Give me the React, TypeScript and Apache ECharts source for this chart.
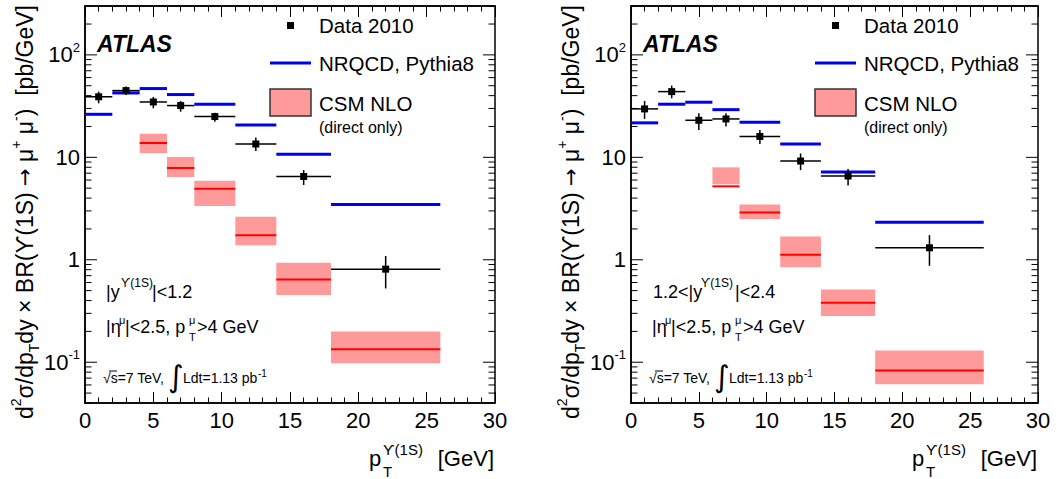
import React, { useEffect, useRef } from 'react';
import * as echarts from 'echarts';

const FONT = '"Liberation Sans", Arial, Helvetica, sans-serif';

// pT bins (GeV)
const binLo = [0, 2, 4, 6, 8, 11, 14, 18];
const binHi = [2, 4, 6, 8, 11, 14, 18, 26];
const binCenter = [1, 3, 5, 7, 9.5, 12.5, 16, 22];

// Left panel: |y| < 1.2
const dataL = [39, 44.8, 34.7, 32, 25, 13.5, 6.5, 0.81];
const dataLLow = [33.7, 40.6, 30.1, 27.9, 22.3, 11.5, 5.37, 0.525];
const dataLHigh = [43.8, 49.1, 38.9, 35.5, 27.3, 15.6, 7.5, 1.09];
const nrqcdL = [26.3, 42.5, 46.9, 41, 33, 20.7, 10.7, 3.47];
const csmLLo = [4, 6, 8, 11, 14, 18];
const csmLHi = [6, 8, 11, 14, 18, 26];
const csmLCentral = [13.8, 7.87, 4.94, 1.74, 0.643, 0.134];
const csmLDown = [11.0, 6.43, 3.34, 1.39, 0.452, 0.098];
const csmLUp = [17, 10.1, 5.9, 2.63, 0.935, 0.2];

// Right panel: 1.2 < |y| < 2.4
const dataR = [29.7, 43.8, 23, 23.7, 16, 9.2, 6.57, 1.31];
const dataRLow = [23.7, 37.7, 18.5, 20, 13.5, 7.5, 5.3, 0.873];
const dataRHigh = [35.5, 50.2, 26.9, 26.9, 18.5, 10.9, 7.7, 1.74];
const nrqcdR = [21.7, 33, 34.5, 29.2, 22, 13.5, 7.19, 2.33];
const csmRLo = [6, 8, 11, 14, 18];
const csmRHi = [8, 11, 14, 18, 26];
const csmRCentral = [5.21, 2.9, 1.12, 0.38, 0.083];
const csmRDown = [5.45, 2.5, 0.847, 0.282, 0.061];
const csmRUp = [7.98, 3.47, 1.69, 0.513, 0.13];

// axis ticks
const yMajorTicks = [0.1, 1, 10, 100];
const yMinorTicks = [
  0.04, 0.05, 0.06, 0.07, 0.08, 0.09,
  0.2, 0.3, 0.4, 0.5, 0.6, 0.7, 0.8, 0.9,
  2, 3, 4, 5, 6, 7, 8, 9,
  20, 30, 40, 50, 60, 70, 80, 90,
  200, 300,
];

const GRIDS = [
  { left: 85, top: 6, width: 410, height: 397 },
  { left: 631, top: 6, width: 407, height: 397 },
];

function xAxisCfg(gridIndex: number, position: string, showLabel: boolean) {
  return {
    type: 'value',
    gridIndex,
    position,
    min: 0,
    max: 30,
    interval: 5,
    axisLine: { show: true, onZero: false, lineStyle: { color: '#000', width: 1.5 } },
    axisTick: { show: true, inside: true, length: 11, lineStyle: { color: '#000', width: 1 } },
    minorTick: { show: true, splitNumber: 5, length: 5.5, lineStyle: { color: '#000', width: 1 } },
    splitLine: { show: false },
    minorSplitLine: { show: false },
    axisLabel: {
      show: showLabel,
      color: '#000',
      fontSize: 22,
      fontFamily: FONT,
      margin: 6,
      showMinLabel: true,
      showMaxLabel: true,
    },
  };
}

function yAxisCfg(gridIndex: number) {
  return {
    type: 'log',
    logBase: 10,
    gridIndex,
    min: 0.04,
    max: 300,
    axisLine: { show: true, onZero: false, lineStyle: { color: '#000', width: 1.5 } },
    axisTick: { show: false },
    splitLine: { show: false },
    axisLabel: {
      color: '#000',
      margin: 5,
      formatter: (v: number) => {
        const e = Math.round(Math.log10(v) * 1000) / 1000;
        if (Math.abs(e - Math.round(e)) > 1e-6) return '';
        const k = Math.round(e);
        if (k === 0) return '{n|1}';
        if (k === 1) return '{n|10}';
        return '{n|10}{s|' + k + '}';
      },
      rich: {
        n: { fontSize: 22, fontFamily: FONT, color: '#000', lineHeight: 28 },
        s: { fontSize: 13, fontFamily: FONT, color: '#000', lineHeight: 13, verticalAlign: 'top' },
      },
    },
  };
}

function panelSeries(
  xi: number,
  yi: number,
  dC: number[],
  dLo: number[],
  dHi: number[],
  nrq: number[],
  cLo: number[],
  cHi: number[],
  cC: number[],
  cD: number[],
  cU: number[]
) {
  const ticks = [
    ...yMajorTicks.map((v) => [0, v, 1]),
    ...yMinorTicks.map((v) => [0, v, 0]),
  ];
  return [
    {
      type: 'custom',
      xAxisIndex: xi,
      yAxisIndex: yi,
      z: 2,
      silent: true,
      encode: { x: [0, 1], y: [2, 3, 4] },
      data: cLo.map((lo, i) => [lo, cHi[i], cD[i], cU[i], cC[i]]),
      renderItem: (_p: any, api: any) => {
        const lo = api.value(0), hi = api.value(1);
        const p1 = api.coord([lo, api.value(3)]);
        const p2 = api.coord([hi, api.value(2)]);
        const c1 = api.coord([lo, api.value(4)]);
        const c2 = api.coord([hi, api.value(4)]);
        return {
          type: 'group',
          children: [
            {
              type: 'rect',
              shape: { x: p1[0], y: p1[1], width: p2[0] - p1[0], height: p2[1] - p1[1] },
              style: { fill: '#ff9a9a' },
            },
            {
              type: 'line',
              shape: { x1: c1[0], y1: c1[1], x2: c2[0], y2: c2[1] },
              style: { stroke: '#ff0000', lineWidth: 2 },
            },
          ],
        };
      },
    },
    {
      type: 'custom',
      xAxisIndex: xi,
      yAxisIndex: yi,
      z: 3,
      silent: true,
      encode: { x: [0, 1], y: 2 },
      data: binLo.map((lo, i) => [lo, binHi[i], nrq[i]]),
      renderItem: (_p: any, api: any) => {
        const a = api.coord([api.value(0), api.value(2)]);
        const b = api.coord([api.value(1), api.value(2)]);
        return {
          type: 'line',
          shape: { x1: a[0], y1: a[1], x2: b[0], y2: b[1] },
          style: { stroke: '#0000ee', lineWidth: 3 },
        };
      },
    },
    {
      type: 'custom',
      xAxisIndex: xi,
      yAxisIndex: yi,
      z: 4,
      silent: true,
      encode: { x: [0, 2, 3], y: [1, 4, 5] },
      data: binCenter.map((x, i) => [x, dC[i], binLo[i], binHi[i], dLo[i], dHi[i]]),
      renderItem: (_p: any, api: any) => {
        const c = api.coord([api.value(0), api.value(1)]);
        const l = api.coord([api.value(2), api.value(1)]);
        const r = api.coord([api.value(3), api.value(1)]);
        const d = api.coord([api.value(0), api.value(4)]);
        const u = api.coord([api.value(0), api.value(5)]);
        return {
          type: 'group',
          children: [
            { type: 'line', shape: { x1: l[0], y1: l[1], x2: r[0], y2: r[1] }, style: { stroke: '#000', lineWidth: 1.5 } },
            { type: 'line', shape: { x1: d[0], y1: d[1], x2: u[0], y2: u[1] }, style: { stroke: '#000', lineWidth: 1.5 } },
            { type: 'rect', shape: { x: c[0] - 3.5, y: c[1] - 3.5, width: 7, height: 7 }, style: { fill: '#000' } },
          ],
        };
      },
    },
    {
      type: 'custom',
      xAxisIndex: xi,
      yAxisIndex: yi,
      z: 5,
      silent: true,
      encode: { x: 0, y: 1 },
      data: ticks,
      renderItem: (_p: any, api: any) => {
        const v = api.value(1);
        const len = api.value(2) ? 12 : 6.5;
        const pl = api.coord([0, v]);
        const pr = api.coord([30, v]);
        return {
          type: 'group',
          children: [
            { type: 'line', shape: { x1: pl[0], y1: pl[1], x2: pl[0] + len, y2: pl[1] }, style: { stroke: '#000', lineWidth: 1 } },
            { type: 'line', shape: { x1: pr[0], y1: pr[1], x2: pr[0] - len, y2: pr[1] }, style: { stroke: '#000', lineWidth: 1 } },
          ],
        };
      },
    },
  ];
}

function txt(x: number, y: number, text: string, size: number, extra: any = {}) {
  return {
    type: 'text',
    x,
    y,
    silent: true,
    style: {
      text,
      fill: '#000',
      fontSize: size,
      fontFamily: FONT,
      align: 'left',
      verticalAlign: 'middle',
      ...extra,
    },
  };
}

function panelGraphics(o: number, frameRight: number, line1: any[]) {
  const lo = o === 0 ? 0 : 545;
  const yTitle =
    '{m|d}{s|2}{m|σ/dp}{b|T}{m|dy × BR(ϒ(1S) }{a|→}{m| μ}{s|+}{m| μ}{s|-}{m|)  [pb/GeV]}';
  return [
    // y-axis title
    {
      type: 'text',
      x: 25 + o,
      y: 5,
      rotation: Math.PI / 2,
      silent: true,
      style: {
        text: yTitle,
        align: 'right',
        verticalAlign: 'middle',
        fontFamily: FONT,
        rich: {
          m: { fontSize: 23, fontFamily: FONT, fill: '#000', lineHeight: 32 },
          a: { fontSize: 21, fontFamily: '"DejaVu Sans", sans-serif', fill: '#000', lineHeight: 32 },
          s: { fontSize: 14, fontFamily: FONT, fill: '#000', lineHeight: 14, verticalAlign: 'top' },
          b: { fontSize: 14, fontFamily: FONT, fill: '#000', lineHeight: 12, verticalAlign: 'bottom' },
        },
      },
    },
    // x-axis title
    txt(369 + (frameRight - 495), 458, 'p', 22),
    txt(383 + (frameRight - 495), 449, 'ϒ(1S)', 15),
    txt(383 + (frameRight - 495), 471, 'T', 15),
    txt(frameRight - 1, 458, '[GeV]', 22, { align: 'right' }),
    // ATLAS
    txt(97 + o, 44, 'ATLAS', 23, { fontWeight: 'bold', fontStyle: 'italic' }),
    // legend
    { type: 'rect', silent: true, shape: { x: 287 + lo, y: 22, width: 7, height: 7 }, style: { fill: '#000' } },
    txt(319 + lo, 25, 'Data 2010', 20.5),
    { type: 'line', silent: true, shape: { x1: 270 + lo, y1: 63, x2: 311 + lo, y2: 63 }, style: { stroke: '#0000ee', lineWidth: 3 } },
    txt(319 + lo, 63, 'NRQCD, Pythia8', 20.5),
    { type: 'rect', silent: true, shape: { x: 270 + lo, y: 89, width: 41, height: 27 }, style: { fill: '#ff9a9a', stroke: '#333', lineWidth: 1.5 } },
    txt(319 + lo, 103, 'CSM NLO', 20.5),
    txt(319 + lo, 127, '(direct only)', 16),
    // rapidity line
    ...line1,
    // muon cuts
    txt(106 + o, 327, '|η', 18),
    txt(119 + o, 320, 'μ', 11),
    txt(125 + o, 327, '|<2.5, p', 18),
    txt(189 + o, 320, 'μ', 11),
    txt(189 + o, 337, 'T', 11),
    txt(197 + o, 327, '>4 GeV', 18),
    // energy / luminosity
    txt(103 + o, 378, '√s=7 TeV,', 14),
    { type: 'line', silent: true, shape: { x1: 109 + o, y1: 371, x2: 117 + o, y2: 371 }, style: { stroke: '#000', lineWidth: 1 } },
    txt(168 + o, 376, '∫', 30, { fontFamily: '"DejaVu Sans", sans-serif' }),
    txt(183 + o, 378, 'Ldt=1.13 pb', 14),
    txt(258 + o, 373, '-1', 10),
  ];
}

export default function App() {
  const ref = useRef<HTMLDivElement>(null);
  useEffect(() => {
    if (!ref.current) return;
    const chart = echarts.init(ref.current, undefined, { renderer: 'svg' });
    const line1L = [
      txt(106, 292, '|y', 18),
      txt(121, 283, 'ϒ(1S)', 12),
      txt(152, 292, '|<1.2', 18),
    ];
    const line1R = [
      txt(653, 292, '1.2<|y', 18),
      txt(701, 283, 'ϒ(1S)', 12),
      txt(735, 292, '|<2.4', 18),
    ];
    const option: any = {
      animation: false,
      backgroundColor: '#fff',
      grid: GRIDS.map((g) => ({ ...g, show: true, borderColor: '#000', borderWidth: 1.5, containLabel: false })),
      xAxis: [xAxisCfg(0, 'bottom', true), xAxisCfg(0, 'top', false), xAxisCfg(1, 'bottom', true), xAxisCfg(1, 'top', false)],
      yAxis: [yAxisCfg(0), yAxisCfg(1)],
      series: [
        ...panelSeries(0, 0, dataL, dataLLow, dataLHigh, nrqcdL, csmLLo, csmLHi, csmLCentral, csmLDown, csmLUp),
        ...panelSeries(2, 1, dataR, dataRLow, dataRHigh, nrqcdR, csmRLo, csmRHi, csmRCentral, csmRDown, csmRUp),
      ],
      graphic: [...panelGraphics(0, 495, line1L), ...panelGraphics(546, 1038, line1R)],
    };
    chart.setOption(option);
    return () => chart.dispose();
  }, []);
  return (
    <div
      ref={ref}
      style={{ position: 'absolute', left: 0, top: 0, width: 1057, height: 479, background: '#fff' }}
    />
  );
}
